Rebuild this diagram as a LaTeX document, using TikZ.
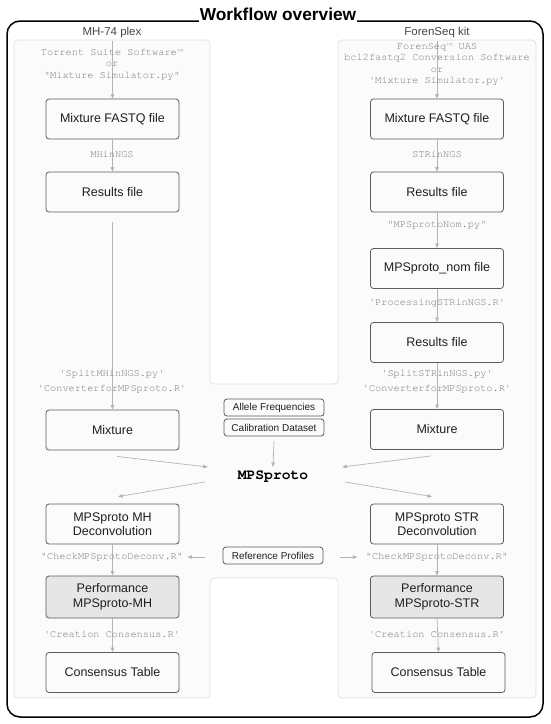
\documentclass[tikz,border=0pt]{standalone}
\usepackage{fontspec}
\setmainfont{Liberation Sans}
\setmonofont{texgyrecursor}[Extension=.otf, UprightFont=*-regular, BoldFont=*-bold, ItalicFont=*-italic, BoldItalicFont=*-bolditalic]
\usetikzlibrary{arrows.meta,calc}
\definecolor{arrgray}{HTML}{B4B4B4}
\definecolor{codegray}{HTML}{7A7A7A}
\definecolor{boxline}{HTML}{5C5C5C}
\definecolor{panelfill}{HTML}{FBFBFB}
\definecolor{panelline}{HTML}{DEDEDE}
\definecolor{perffill}{HTML}{E6E6E6}
\definecolor{labelgray}{HTML}{454545}
\tikzset{
  box/.style={draw=boxline, line width=0.8pt, rounded corners=3pt, minimum width=133pt,
    minimum height=40pt, font=\fontsize{12.5}{14.5}\selectfont, align=center, text=black!88, inner sep=1pt},
  perfbox/.style={box, fill=perffill, minimum height=42pt},
  smallbox/.style={draw=boxline, line width=0.8pt, rounded corners=3pt, minimum width=100pt,
    minimum height=17pt, font=\fontsize{10}{12}\selectfont, inner sep=1pt, text=black!88},
  code/.style={font=\ttfamily\fontsize{10.3}{11.6}\selectfont, text=codegray, align=center, inner sep=0pt},
  flow/.style={draw=arrgray, line width=0.7pt, -{Triangle[length=4.5pt,width=3.6pt]}},
  panellabel/.style={font=\fontsize{11.5}{13}\selectfont, text=labelgray, inner sep=0pt}
}
\begin{document}
\begin{tikzpicture}[x=1pt,y=-1pt]
\useasboundingbox (0,0) rectangle (550,724);
% outer border
\draw[line width=1.5pt, rounded corners=13pt] (7,21) rectangle (543,717);
\node[font=\bfseries\fontsize{17.3}{19}\selectfont, fill=white, inner xsep=1pt, inner ysep=2.5pt, text depth=0pt, anchor=base] (title) at (278,20) {Workflow overview};
% panels
\draw[draw=panelline, fill=panelfill, line width=0.7pt, rounded corners=4pt]
  (14,40) -- (210,40) -- (210,384) -- (338,384) -- (338,40) -- (536,40) -- (536,698)
  -- (338,698) -- (338,578) -- (210,578) -- (210,698) -- (14,698) -- cycle;
\node[panellabel] (plexL) at (112,33) {MH-74 plex};
\node[panellabel] (plexR) at (437,33) {ForenSeq kit};

% left column
\node[box] (l1) at (112.5,119) {Mixture FASTQ file};
\node[box] (l2) at (112.5,192) {Results file};
\node[box] (l3) at (112.5,430) {Mixture};
\node[box] (l4) at (112.5,524) {MPSproto MH\\Deconvolution};
\node[perfbox] (l5) at (112.5,597) {Performance\\MPSproto-MH};
\node[box] (l6) at (112.5,672.5) {Consensus Table};

% right column
\node[box] (r1) at (437,119) {Mixture FASTQ file};
\node[box] (r2) at (437,192) {Results file};
\node[box] (r3) at (437,268.5) {MPSproto\_nom file};
\node[box] (r4) at (437,342.5) {Results file};
\node[box] (r5) at (437,429.5) {Mixture};
\node[box] (r6) at (437,524) {MPSproto STR\\Deconvolution};
\node[perfbox] (r7) at (437,597) {Performance\\MPSproto-STR};
\node[box] (r8) at (438.5,672.5) {Consensus Table};

% centre
\node[smallbox] (af) at (274,407.5) {Allele Frequencies};
\node[smallbox] (cd) at (274,427.5) {Calibration Dataset};
\node[font=\ttfamily\bfseries\fontsize{14.6}{16}\selectfont, inner sep=1pt] (mps) at (273,477) {MPSproto};
\node[smallbox] (ref) at (273,555.5) {Reference Profiles};

% free ends
\coordinate (lstart) at (112.5,41);
\coordinate (rstart) at (437,41);

% vertical flows (drawn before code labels)
\draw[flow] (lstart) -- (l1.north);
\draw[flow] (l1.south) -- (l2.north);
\draw[flow, shorten <=10pt] (l2.south) -- (l3.north);
\draw[flow] (l4.south) -- (l5.north);
\draw[flow] (l5.south) -- (l6.north);

\draw[flow] (rstart) -- (r1.north);
\draw[flow] (r1.south) -- (r2.north);
\draw[flow] (r2.south) -- (r3.north);
\draw[flow] (r3.south) -- (r4.north);
\draw[flow] (r4.south) -- (r5.north);
\draw[flow] (r6.south) -- (r7.north);
\draw[flow] (r7.south) -- (r8.north);

% code labels
\node[code] (lsrc) at (112,64.5) {Torrent Suite Software™\\or\\"Mixture Simulator.py"};
\node[code] (lc1) at (112,154) {MHinNGS};
\node[code] (lc2) at (112,381.5) {'SplitMHinNGS.py'\\[3.4pt]'ConverterforMPSproto.R'};
\node[code] (lc3) at (112,557) {"CheckMPSprotoDeconv.R"};
\node[code] (lc4) at (112,634) {'Creation Consensus.R'};

\node[code] (rsrc) at (437,64.5) {ForenSeq™ UAS\\bcl2fastq2 Conversion Software\\or\\'Mixture Simulator.py'};
\node[code] (rc1) at (437,154) {STRinNGS};
\node[code] (rc2) at (437,225) {"MPSprotoNom.py"};
\node[code] (rc3) at (437,303) {'ProcessingSTRinNGS.R'};
\node[code] (rc4) at (437,381.5) {'SplitSTRinNGS.py'\\[3.4pt]'ConverterforMPSproto.R'};
\node[code] (rc5) at (437,557) {"CheckMPSprotoDeconv.R"};
\node[code] (rc6) at (437,634) {'Creation Consensus.R'};

% centre flows
\draw[flow] ($(cd.south)+(0,5)$) -- ($(mps.north)+(0,-3)$);
\draw[flow] ($(l3.south)+(4.5,6)$) -- ($(mps.west)+(-29,-10)$);
\draw[flow] ($(r5.south)+(-6,6)$) -- ($(mps.east)+(33,-10)$);
\draw[flow] ($(mps.west)+(-32,5)$) -- ($(l4.north)+(5.5,-7)$);
\draw[flow] ($(mps.east)+(36,5)$) -- ($(r6.north)+(-5,-7)$);
\draw[flow] ($(ref.west)+(-18,1.5)$) -- ($(ref.west)+(-35,1.5)$);
\draw[flow] ($(ref.east)+(17,1.5)$) -- ($(ref.east)+(34,1.5)$);
\end{tikzpicture}
\end{document}
